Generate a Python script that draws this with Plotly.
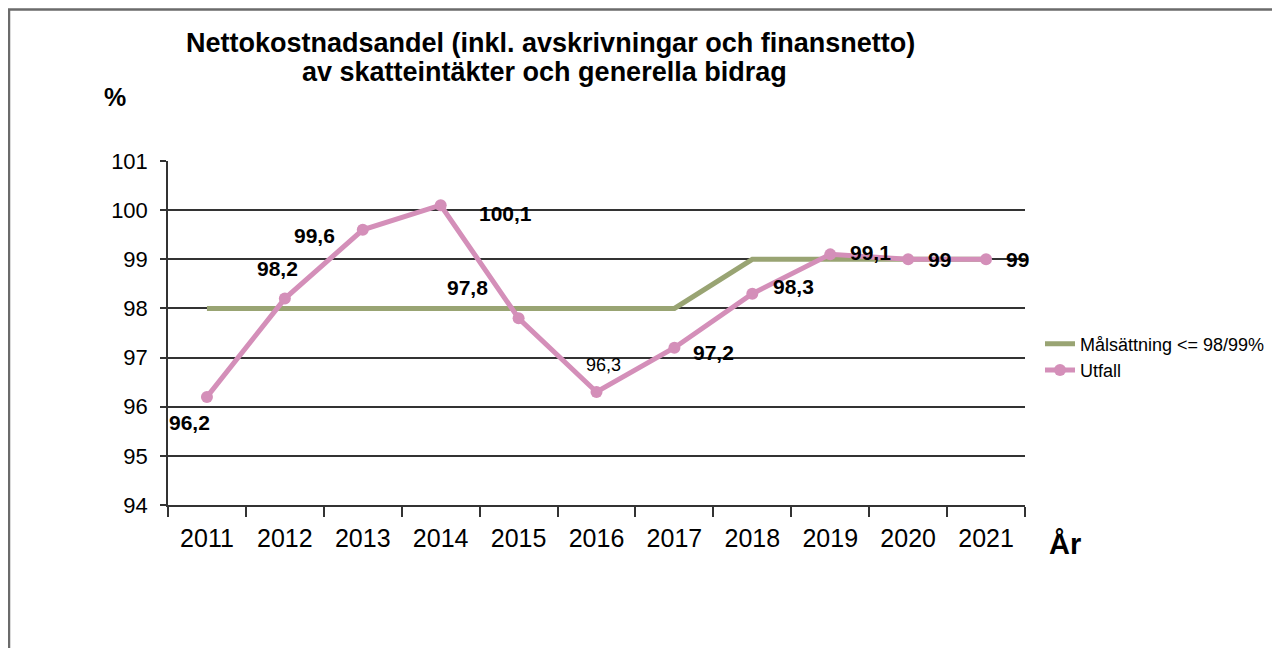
import plotly.graph_objects as go

years = ["2011", "2012", "2013", "2014", "2015", "2016", "2017", "2018", "2019", "2020", "2021"]
malsattning = [98, 98, 98, 98, 98, 98, 98, 99, 99, 99, 99]
utfall = [96.2, 98.2, 99.6, 100.1, 97.8, 96.3, 97.2, 98.3, 99.1, 99, 99]
utfall_labels = ["96,2", "98,2", "99,6", "100,1", "97,8", "96,3", "97,2", "98,3", "99,1", "99", "99"]
y_ticks = [94, 95, 96, 97, 98, 99, 100, 101]

# label offsets (pixels) relative to each point
label_dx = [-17, -7, -48, 65, -51, 7, 39, 41, 40, 31, 31]
label_dy = [-26, 30, -6, -8, 31, 27, -5, 7, 2, 0, 0]
label_bold = [True, True, True, True, True, False, True, True, True, True, True]

FONT = "Liberation Sans, Arial, sans-serif"
PINK = "#D48FB9"
GREEN = "#99A473"

OFF = 8  # page body margin
W, H = 1280 - OFF, 648 - OFF
PL, PR, PT, PB = 168 - OFF, 1025 - OFF, 161 - OFF, 505 - OFF


def px(sx):
    return (sx - OFF - PL) / (PR - PL)


def py(sy):
    return (PB - (sy - OFF)) / (PB - PT)


fig = go.Figure()
fig.add_trace(go.Scatter(
    x=years, y=malsattning, mode="lines", name="Målsättning <= 98/99%",
    line=dict(color=GREEN, width=5), cliponaxis=False,
))
fig.add_trace(go.Scatter(
    x=years, y=utfall, mode="lines+markers", name="Utfall",
    line=dict(color=PINK, width=5), marker=dict(color=PINK, size=12),
    cliponaxis=False,
))

annotations = []
for i, (v, lab, dx, dy, b) in enumerate(zip(utfall, utfall_labels, label_dx, label_dy, label_bold)):
    annotations.append(dict(
        x=i, y=v, xref="x", yref="y", text=f"<b>{lab}</b>" if b else lab,
        showarrow=False, xshift=dx, yshift=dy,
        font=dict(family=FONT, size=21 if b else 18, color="#000"),
    ))

annotations.append(dict(
    text="<b>Nettokostnadsandel (inkl. avskrivningar och finansnetto)</b>",
    x=px(550), y=py(43), xref="paper", yref="paper",
    showarrow=False, xanchor="center", yanchor="middle",
    font=dict(family=FONT, size=27, color="#000"),
))
annotations.append(dict(
    text="<b>av skatteintäkter och generella bidrag</b>",
    x=px(544), y=py(72), xref="paper", yref="paper",
    showarrow=False, xanchor="center", yanchor="middle",
    font=dict(family=FONT, size=27, color="#000"),
))
annotations.append(dict(
    text="<b>%</b>", x=px(115), y=py(97), xref="paper", yref="paper",
    showarrow=False, xanchor="center", yanchor="middle",
    font=dict(family=FONT, size=25, color="#000"),
))
annotations.append(dict(
    text="<b>År</b>", x=px(1065), y=py(544), xref="paper", yref="paper",
    showarrow=False, xanchor="center", yanchor="middle",
    font=dict(family=FONT, size=29, color="#000"),
))

fig.update_layout(
    width=W, height=H,
    margin=dict(l=PL, r=W - PR, t=PT, b=H - PB, autoexpand=False),
    paper_bgcolor="white", plot_bgcolor="white",
    font=dict(family=FONT, size=20, color="#000"),
    showlegend=True,
    legend=dict(
        x=px(1040), y=py(357), xanchor="left", yanchor="middle",
        font=dict(family=FONT, size=18, color="#000"), itemwidth=30,
        bgcolor="rgba(0,0,0,0)", tracegroupgap=0,
    ),
    annotations=annotations,
    shapes=[dict(
        type="rect", xref="paper", yref="paper",
        x0=px(9), x1=px(1300),
        y0=py(700), y1=py(9.5),
        line=dict(color="#6b6b6b", width=2.5), fillcolor="rgba(0,0,0,0)", layer="below",
    )],
)

fig.update_xaxes(
    type="category", range=[-0.5, 10.5], tickson="boundaries",
    ticks="outside", ticklen=10, tickwidth=1.5, tickcolor="#333",
    showline=True, linecolor="#333", linewidth=1.5, ticklabelstandoff=10,
    showgrid=False, tickfont=dict(family=FONT, size=25, color="#000"),
    automargin=False,
)
fig.update_yaxes(
    range=[94, 101], tickvals=y_ticks, ticks="outside", ticklen=6, tickwidth=1.5,
    tickcolor="#333", showline=True, linecolor="#333", linewidth=1.5,
    showgrid=True, gridcolor="#333", gridwidth=1.5, zeroline=False, ticklabelstandoff=8,
    tickfont=dict(family=FONT, size=22, color="#000"), automargin=False,
)

fig.write_html("out.html")
